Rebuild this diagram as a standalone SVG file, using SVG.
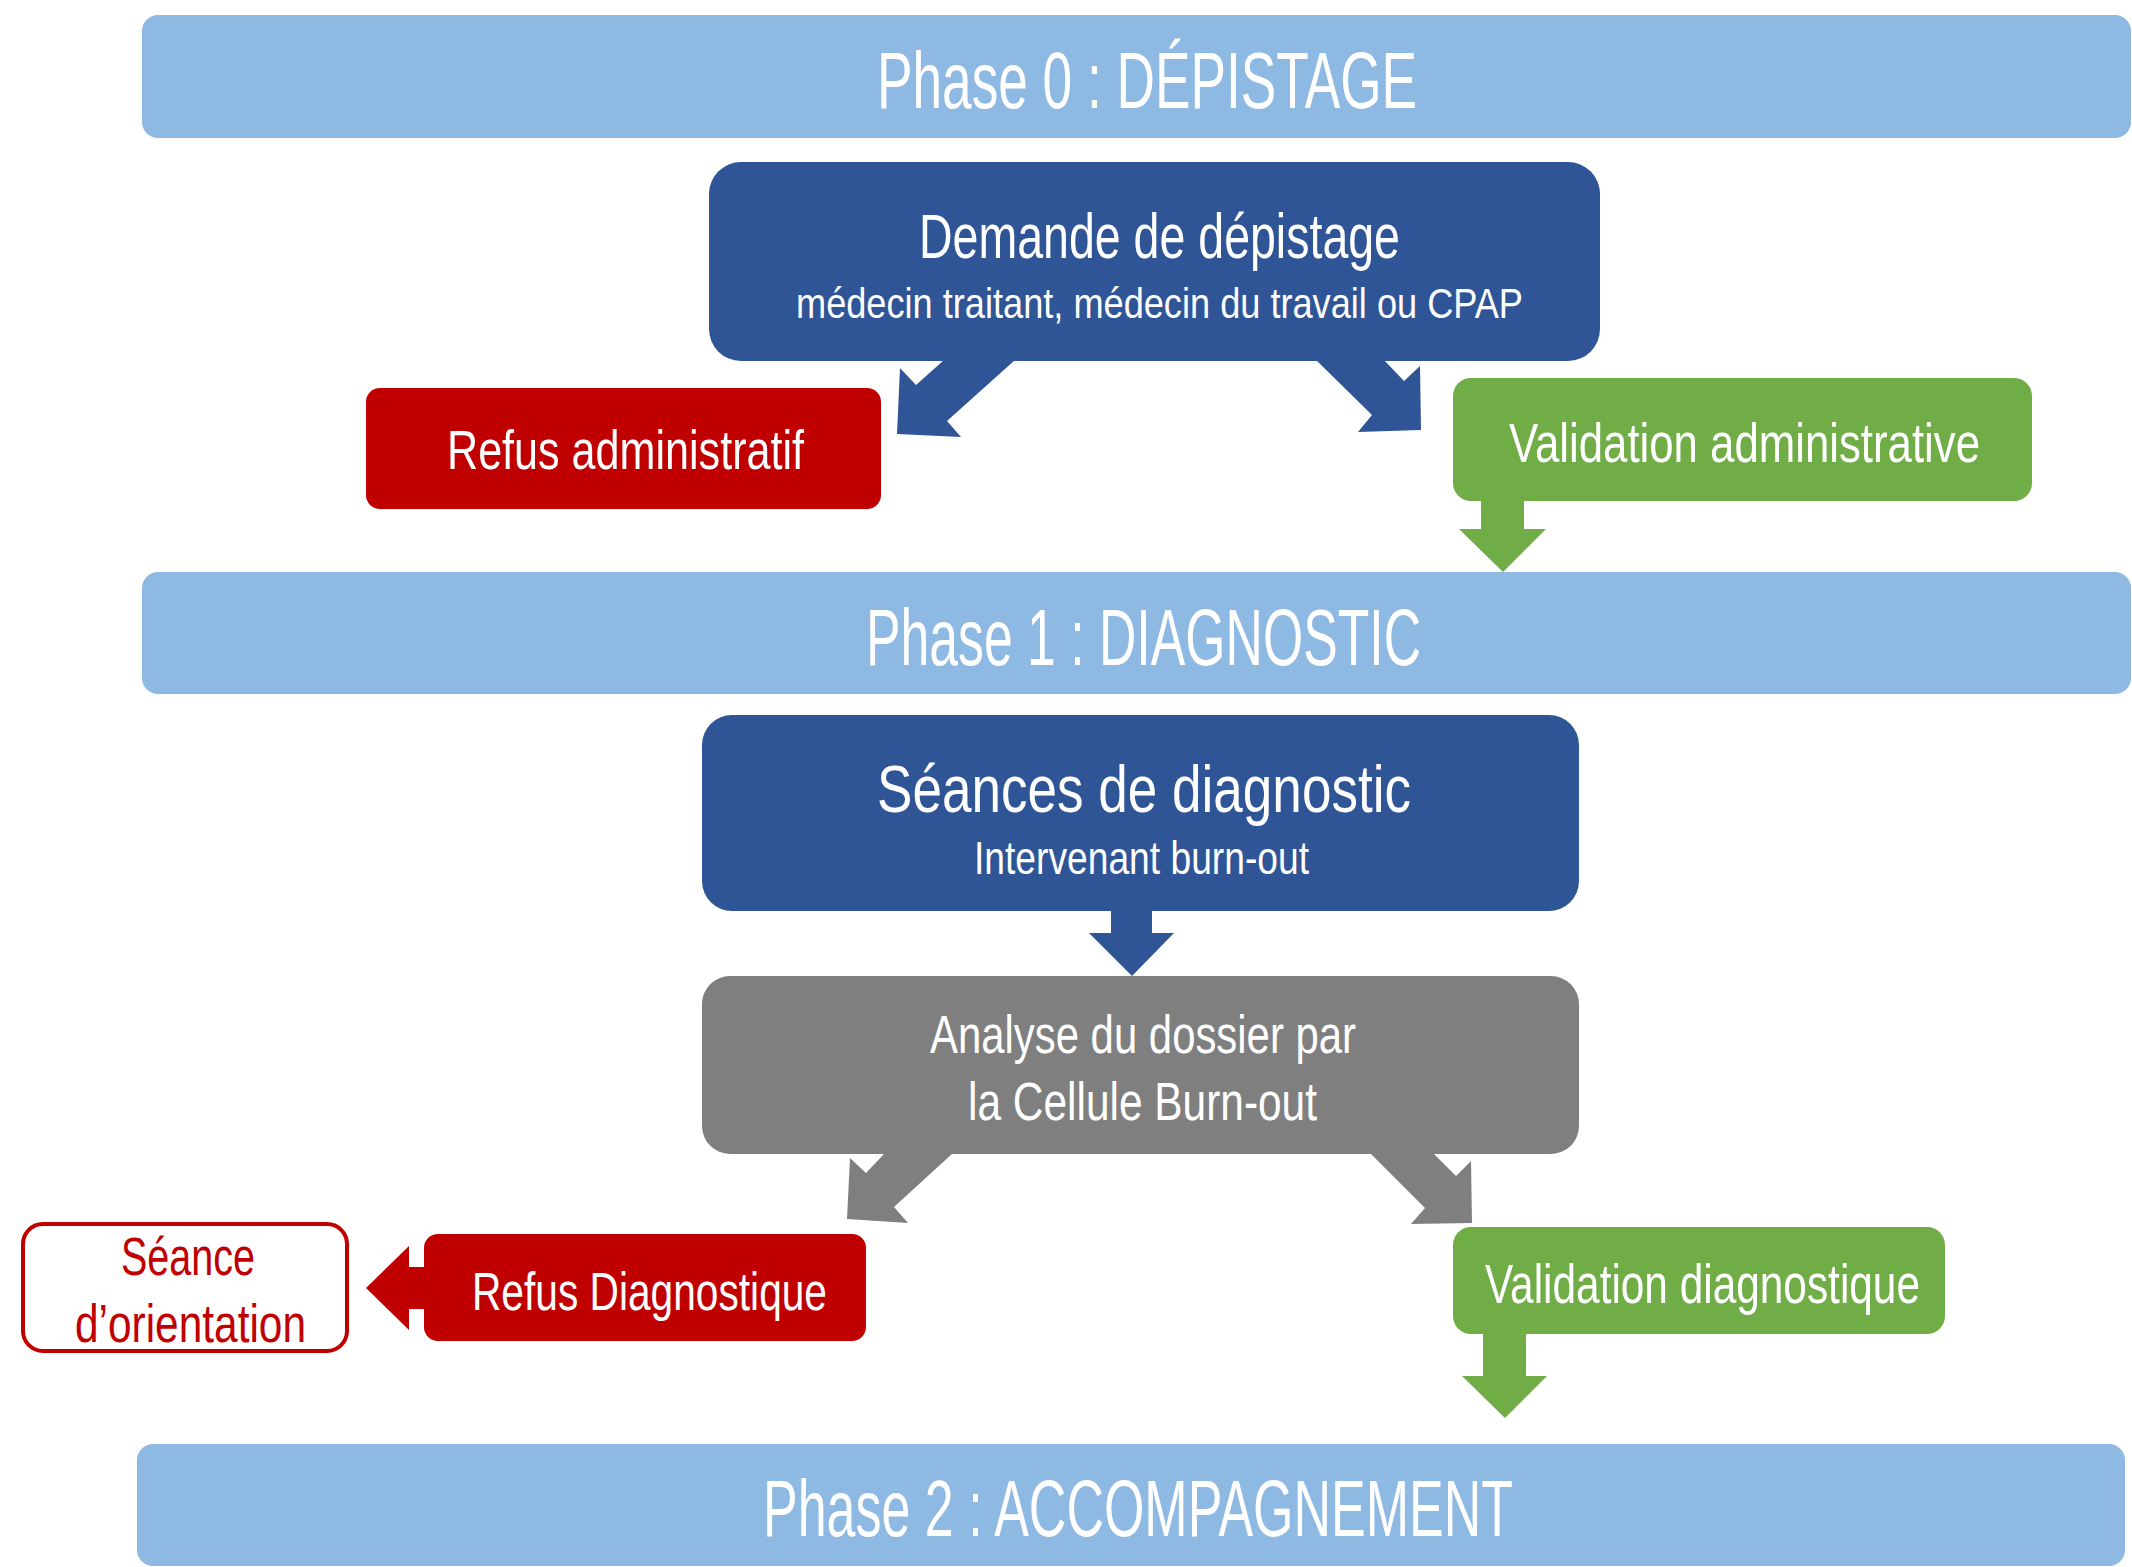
<svg xmlns="http://www.w3.org/2000/svg" width="2132" height="1567" viewBox="0 0 2132 1567">
<style>
text{font-family:"Liberation Sans","DejaVu Sans",sans-serif;fill:#fff;text-anchor:start}
.ph{fill:#8DB9E2}
.blue{fill:#2F5597}
.red{fill:#C00000}
.green{fill:#70AD47}
.gray{fill:#7F7F7F}
.rt{fill:#C00000}
</style>
<rect width="2132" height="1567" fill="#fff"/>
<g id="phase0"><rect class="ph" x="142" y="15" width="1989" height="123" rx="16"/>
<text x="877" y="108" font-size="80" textLength="540" lengthAdjust="spacingAndGlyphs">Phase 0 : DÉPISTAGE</text></g>
<g id="demande"><rect class="blue" x="709" y="162" width="891" height="199" rx="32"/>
<text x="919" y="258" font-size="63" textLength="481" lengthAdjust="spacingAndGlyphs">Demande de dépistage</text>
<text x="796" y="318" font-size="42" textLength="727" lengthAdjust="spacingAndGlyphs">médecin traitant, médecin du travail ou CPAP</text></g>
<g id="refus-admin"><rect class="red" x="366" y="388" width="515" height="121" rx="14"/>
<text x="447" y="469" font-size="55" textLength="357" lengthAdjust="spacingAndGlyphs">Refus administratif</text></g>
<g id="valid-admin"><rect class="green" x="1453" y="378" width="579" height="123" rx="18"/>
<text x="1509" y="462" font-size="55" textLength="471" lengthAdjust="spacingAndGlyphs">Validation administrative</text></g>
<g id="phase1"><rect class="ph" x="142" y="572" width="1989" height="122" rx="16"/>
<text x="866" y="665" font-size="80" textLength="555" lengthAdjust="spacingAndGlyphs">Phase 1 : DIAGNOSTIC</text></g>
<g id="seances"><rect class="blue" x="702" y="715" width="877" height="196" rx="30"/>
<text x="877" y="812" font-size="66" textLength="534" lengthAdjust="spacingAndGlyphs">Séances de diagnostic</text>
<text x="974" y="874" font-size="46" textLength="335" lengthAdjust="spacingAndGlyphs">Intervenant burn-out</text></g>
<g id="analyse"><rect class="gray" x="702" y="976" width="877" height="178" rx="28"/>
<text x="930" y="1053" font-size="53" textLength="426" lengthAdjust="spacingAndGlyphs">Analyse du dossier par</text>
<text x="968" y="1120" font-size="53" textLength="349" lengthAdjust="spacingAndGlyphs">la Cellule Burn-out</text></g>
<g id="refus-diag"><rect class="red" x="424" y="1234" width="442" height="107" rx="14"/>
<text x="472" y="1310" font-size="54" textLength="355" lengthAdjust="spacingAndGlyphs">Refus Diagnostique</text></g>
<g id="seance-orientation"><rect x="23" y="1224" width="324" height="127" rx="20" fill="#fff" stroke="#C00000" stroke-width="4"/>
<text class="rt" x="121" y="1275" font-size="54" textLength="134" lengthAdjust="spacingAndGlyphs">Séance</text>
<text class="rt" x="75" y="1342" font-size="54" textLength="231" lengthAdjust="spacingAndGlyphs">d’orientation</text></g>
<g id="valid-diag"><rect class="green" x="1453" y="1227" width="492" height="107" rx="18"/>
<text x="1485" y="1303" font-size="55" textLength="435" lengthAdjust="spacingAndGlyphs">Validation diagnostique</text></g>
<g id="phase2"><rect class="ph" x="137" y="1444" width="1988" height="122" rx="16"/>
<text x="763" y="1536" font-size="80" textLength="750" lengthAdjust="spacingAndGlyphs">Phase 2 : ACCOMPAGNEMENT</text></g>
<g id="connectors">
<polygon class="blue" points="1015,360 944,360 916,385 900,368 897,434 961,437 947,421"/>
<polygon class="blue" points="1316,360 1384,360 1404,381 1420,366 1421,430 1358,432 1372,415"/>
<polygon class="green" points="1481,500 1524,500 1524,529 1546,529 1503,572 1459,529 1481,529"/>
<polygon class="blue" points="1111,910 1152,910 1152,933 1174,933 1132,976 1089,933 1111,933"/>
<polygon class="gray" points="953,1153 885,1153 866,1173 850,1158 847,1219 908,1223 894,1207"/>
<polygon class="gray" points="1370,1153 1433,1153 1456,1176 1471,1161 1472,1223 1411,1224 1425,1208"/>
<polygon class="red" points="425,1267 409,1267 409,1246 366,1288 409,1330 409,1309 425,1309"/>
<polygon class="green" points="1483,1333 1526,1333 1526,1376 1547,1376 1505,1418 1462,1376 1483,1376"/>
</g>
</svg>
